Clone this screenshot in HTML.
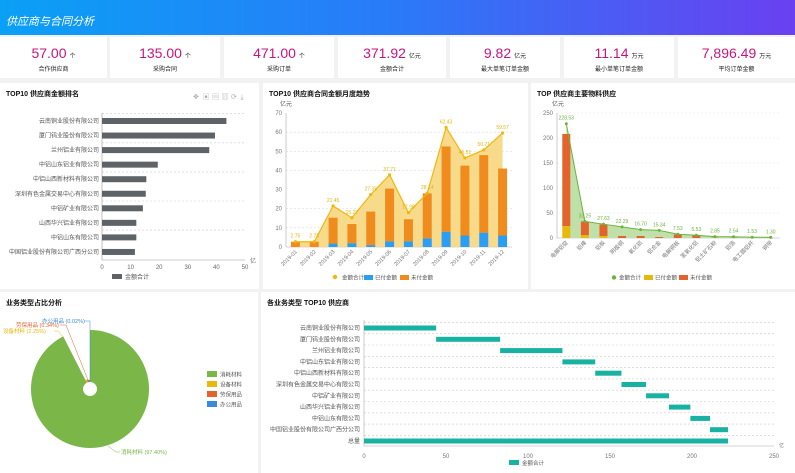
<!DOCTYPE html>
<html><head><meta charset="utf-8"><style>
*{margin:0;padding:0;box-sizing:border-box}
body{width:795px;height:473px;overflow:hidden;background:#f2f2f2;font-family:"Liberation Sans","Noto Sans CJK SC",sans-serif;position:relative}
.hdr{position:absolute;left:0;top:0;width:795px;height:35px;background:linear-gradient(90deg,#0aa0f6,#2a7af8 50%,#6a40f0);color:#fff;font-size:11px;font-style:italic;padding:13px 0 0 6px}
.card{position:absolute;top:37px;height:41px;background:#fff;text-align:center}
.card .v{color:#c8157e;font-size:14px;margin-top:8px}
.card .v small{color:#222;font-size:6px;margin-left:3px}
.card .l{font-size:6px;color:#222;margin-top:3px}
.panel{position:absolute;background:#fff}
.t{position:absolute;left:6px;top:6px;font-size:7px;font-weight:bold;color:#111}
svg{position:absolute;left:0;top:0}
</style></head><body>
<div class="hdr">供应商与合同分析</div>
<div class="card" style="left:0;width:107px"><div class="v">57.00<small>个</small></div><div class="l">合作供应商</div></div>
<div class="card" style="left:110px;width:110px"><div class="v">135.00<small>个</small></div><div class="l">采购合同</div></div>
<div class="card" style="left:224px;width:110px"><div class="v">471.00<small>个</small></div><div class="l">采购订单</div></div>
<div class="card" style="left:338px;width:108px"><div class="v">371.92<small>亿元</small></div><div class="l">金额合计</div></div>
<div class="card" style="left:450px;width:110px"><div class="v">9.82<small>亿元</small></div><div class="l">最大单笔订单金额</div></div>
<div class="card" style="left:564px;width:110px"><div class="v">11.14<small>万元</small></div><div class="l">最小单笔订单金额</div></div>
<div class="card" style="left:678px;width:117px"><div class="v">7,896.49<small>万元</small></div><div class="l">平均订单金额</div></div>

<div class="panel" style="left:0;top:83px;width:259px;height:206px"><div class="t">TOP10 供应商金额排名</div></div>
<div class="panel" style="left:263px;top:83px;width:265px;height:206px"><div class="t">TOP10 供应商合同金额月度趋势</div></div>
<div class="panel" style="left:531px;top:83px;width:264px;height:206px"><div class="t">TOP 供应商主要物料供应</div></div>
<div class="panel" style="left:0;top:292px;width:258px;height:181px"><div class="t">业务类型占比分析</div></div>
<div class="panel" style="left:261px;top:292px;width:534px;height:181px"><div class="t">各业务类型 TOP10 供应商</div></div>

<svg id="s" width="795" height="473" font-family="Liberation Sans, Noto Sans CJK SC, sans-serif"></svg>
<script>
// ---- chart 1 data
const c1Cats=["云南铜业股份有限公司","厦门钨业股份有限公司","兰州铝业有限公司","中铝山东铝业有限公司","中铝山西新材料有限公司","深圳有色金属交易中心有限公司","中铝矿业有限公司","山西华兴铝业有限公司","中铝山东有限公司","中国铝业股份有限公司广西分公司"];
const c1Vals=[43.5,39.5,37.5,19.5,15.5,15.3,14.3,12,12,11.5];
const c1Ticks=[0,10,20,30,40,50];
// ---- chart 2 data
const c2Cats=["2019-01","2019-02","2019-03","2019-04","2019-05","2019-06","2019-07","2019-08","2019-09","2019-10","2019-11","2019-12"];
const c2Total=[2.75,2.75,21.45,15.27,27.35,37.71,17.98,28.14,62.43,46.51,50.71,59.57];
const c2Paid=[0,0,1.8,2,1,3,3,4.5,8,6,7.5,6];
const c2Unpaid=[2.75,2.75,13.5,10,17.5,27.5,11.5,23.5,44.5,36.5,40.5,35];
const c2Ticks=[0,10,20,30,40,50,60,70];
// ---- chart 3 data
const c3Cats=["电解铝锭","铝棒","铝板","阴极铜","氧化铝","铝合金","电解铜板","氢氧化铝","铝土矿石粉","铝箔","电工圆铝杆","铜带"];
const c3Total=[228.53,33.25,27.63,22.29,16.70,15.34,7.53,5.53,2.85,2.54,1.53,1.30];
const c3Paid=[24,6,4,0,0,0,0,0,0,0,0,0];
const c3Unpaid=[184,27,23,4,4,2,7,5,0.5,0.5,0.3,0.3];
const c3Ticks=[0,50,100,150,200,250];
// ---- chart 4 data
const c4Cats=["消耗材料","设备材料","劳保用品","办公用品"];
const c4Vals=[97.40,2.25,0.34,0.02];
// ---- chart 5 data
const c5Cats=["云南铜业股份有限公司","厦门钨业股份有限公司","兰州铝业有限公司","中铝山东铝业有限公司","中铝山西新材料有限公司","深圳有色金属交易中心有限公司","中铝矿业有限公司","山西华兴铝业有限公司","中铝山东有限公司","中国铝业股份有限公司广西分公司","总量"];
const c5Vals=[44,39,38,20,16,15,14,13,12,11];
const c5Ticks=[0,50,100,150,200,250];

const S=document.getElementById('s');const NS='http://www.w3.org/2000/svg';
function mk(t,a,txt){const e=document.createElementNS(NS,t);for(const k in a)e.setAttribute(k,a[k]);if(txt!==undefined)e.textContent=txt;S.appendChild(e);return e;}

// ===== chart 1
(function(){
const x=v=>102+v/50*143, y=i=>121+i*14.55;
c1Ticks.forEach(t=>{const e=mk('text',{x:x(t),y:269,'font-size':6,fill:'#666','text-anchor':'middle'},t);

});
mk('text',{x:250,y:263,'font-size':6,fill:'#666'},'亿');
[0,2,4,6,8].forEach(i=>mk('line',{x1:102,x2:245,y1:y(i)-7.3,y2:y(i)-7.3,stroke:'#ccc','stroke-dasharray':'2,2','stroke-width':0.6}));
mk('line',{x1:102,x2:102,y1:113,y2:260,stroke:'#999','stroke-width':0.6});
mk('line',{x1:102,x2:245,y1:260,y2:260,stroke:'#999','stroke-width':0.6});
c1Cats.forEach((c,i)=>{
const b=mk('rect',{x:102,y:y(i)-3,width:x(c1Vals[i])-102,height:6,fill:'#5d6367'});


mk('text',{x:99,y:y(i)+2,'font-size':6,fill:'#555','text-anchor':'end'},c);});
mk('rect',{x:112,y:274,width:10,height:5,fill:'#5d6367'});
const lg=mk('text',{x:125,y:279,'font-size':6,fill:'#555'},'金额合计');


['✥','▣','▤','▥','⟳','⤓'].forEach((g,i)=>{const e=mk('text',{x:193+i*9.5,y:99,'font-size':7,fill:'#aaa'},g);

});
})();

// ===== chart 2
(function(){
const L=286,R=512,bw=(R-L)/12,x=i=>L+bw*(i+0.5),y=v=>247-v/70*134;
c2Ticks.forEach(t=>{mk('text',{x:282,y:y(t)+2,'font-size':6,fill:'#777','text-anchor':'end'},t);
if(t>0&&t%20==0||t==10||t==50)mk('line',{x1:L,x2:R,y1:y(t),y2:y(t),stroke:'#ddd','stroke-dasharray':'2,2','stroke-width':0.6});});
mk('text',{x:280,y:106,'font-size':6,fill:'#555'},'亿元');
mk('line',{x1:L,x2:L,y1:113,y2:247,stroke:'#aaa','stroke-width':0.6});
mk('line',{x1:L,x2:R,y1:247,y2:247,stroke:'#aaa','stroke-width':0.6});
let d='M'+x(0)+','+y(0);c2Total.forEach((v,i)=>d+='L'+x(i)+','+y(v));d+='L'+x(11)+','+y(0)+'Z';
mk('path',{d:d,fill:'#f7d67e',opacity:0.9});
c2Cats.forEach((c,i)=>{
const b1=mk('rect',{x:x(i)-4.5,y:y(c2Paid[i]),width:9,height:y(0)-y(c2Paid[i]),fill:'#2a9df4'});


const b2=mk('rect',{x:x(i)-4.5,y:y(c2Paid[i]+c2Unpaid[i]),width:9,height:y(c2Paid[i])-y(c2Paid[i]+c2Unpaid[i]),fill:'#f08c1e'});


mk('text',{x:x(i)+2,y:252,'font-size':5.5,fill:'#777','text-anchor':'end',transform:`rotate(-45 ${x(i)+2} 252)`},c);});
let p='';c2Total.forEach((v,i)=>p+=(i?'L':'M')+x(i)+','+y(v));
const ln=mk('path',{d:p,fill:'none',stroke:'#f0b70c','stroke-width':1.2});


c2Total.forEach((v,i)=>{mk('circle',{cx:x(i),cy:y(v),r:1.6,fill:'#f0b70c'});
mk('text',{x:x(i),y:y(v)-4,'font-size':5,fill:'#e8b20c','text-anchor':'middle'},v.toFixed(2));});
[['circle','#f0b70c','金额合计',345],['rect','#2a9df4','已付金额',378],['rect','#f08c1e','未付金额',414]].forEach(a=>{
if(a[0]=='circle')mk('circle',{cx:a[3]-10,cy:277,r:2.2,fill:a[1]});else mk('rect',{x:a[3]-14,y:275,width:9,height:5,fill:a[1]});
const e=mk('text',{x:a[3]-3,y:279.5,'font-size':5.5,fill:'#555'},a[2]);

});
})();

// ===== chart 3
(function(){
const L=557,R=780,bw=(R-L)/12,x=i=>L+bw*(i+0.5),y=v=>238-v/250*125;
c3Ticks.forEach(t=>{mk('text',{x:553,y:y(t)+2,'font-size':6,fill:'#777','text-anchor':'end'},t);
if(t>0)mk('line',{x1:L,x2:R,y1:y(t),y2:y(t),stroke:'#e4e4e4','stroke-dasharray':'2,2','stroke-width':0.6});});
mk('text',{x:552,y:106,'font-size':6,fill:'#555'},'亿元');
mk('line',{x1:L,x2:L,y1:113,y2:238,stroke:'#aaa','stroke-width':0.6});
mk('line',{x1:L,x2:R,y1:238,y2:238,stroke:'#aaa','stroke-width':0.6});
let d='M'+x(0)+','+y(0);c3Total.forEach((v,i)=>d+='L'+x(i)+','+y(v));d+='L'+x(11)+','+y(0)+'Z';
mk('path',{d:d,fill:'#bfe0a8'});
c3Cats.forEach((c,i)=>{
const b1=mk('rect',{x:x(i)-4,y:y(c3Paid[i]),width:8,height:y(0)-y(c3Paid[i]),fill:'#e8b90c'});


const b2=mk('rect',{x:x(i)-4,y:y(c3Paid[i]+c3Unpaid[i]),width:8,height:y(c3Paid[i])-y(c3Paid[i]+c3Unpaid[i]),fill:'#e4622c'});


mk('text',{x:x(i)+2,y:243,'font-size':5.5,fill:'#777','text-anchor':'end',transform:`rotate(-45 ${x(i)+2} 243)`},c);});
let p='';c3Total.forEach((v,i)=>p+=(i?'L':'M')+x(i)+','+y(v));
const ln=mk('path',{d:p,fill:'none',stroke:'#6cb33e','stroke-width':1});


c3Total.forEach((v,i)=>{mk('circle',{cx:x(i),cy:y(v),r:1.5,fill:'#6cb33e'});
mk('text',{x:x(i),y:y(v)-4,'font-size':5,fill:'#6cb33e','text-anchor':'middle'},v.toFixed(2));});
[['circle','#6cb33e','金额合计',622],['rect','#e8b90c','已付金额',658],['rect','#e4622c','未付金额',693]].forEach(a=>{
if(a[0]=='circle')mk('circle',{cx:a[3]-8,cy:277.5,r:2.2,fill:a[1]});else mk('rect',{x:a[3]-14,y:275,width:9,height:5,fill:a[1]});
const e=mk('text',{x:a[3]-3,y:279.5,'font-size':5.5,fill:'#555'},a[2]);

});
})();

// ===== chart 4 (rose pie)
(function(){
const cx=90,cy=389,colors=['#7ab648','#e8b90c','#e4622c','#3b8ad9'];
const max=Math.max(...c4Vals);
const minAng=0.075*Math.PI*2;
let a0=-Math.PI/2;const smallAng=minAng/3;
c4Vals.forEach((v,i)=>{
const ang=i==0?(Math.PI*2-minAng):smallAng;
const r=i==0?59*Math.sqrt(v/max):9+Math.sqrt(v/max)*8;
const a1=a0+ang;
const P=(a,rr)=>[cx+rr*Math.cos(a),cy+rr*Math.sin(a)];
const [x0,y0]=P(a0,r),[x1,y1]=P(a1,r),[ix0,iy0]=P(a0,7),[ix1,iy1]=P(a1,7);
const lg=ang>Math.PI?1:0;
const s=mk('path',{d:`M${ix0},${iy0}L${x0},${y0}A${r},${r} 0 ${lg} 1 ${x1},${y1}L${ix1},${iy1}A7,7 0 ${lg} 0 ${ix0},${iy0}Z`,fill:colors[i]});


a0=a1;});
c4Cats.forEach((c,i)=>{
const txt=c+' ('+c4Vals[i].toFixed(2)+'%)';
if(i==0){mk('polyline',{points:'108,446 116,452 120,452',fill:'none',stroke:'#7ab648','stroke-width':0.5});mk('text',{x:121,y:454,'font-size':5.5,fill:'#7ab648'},txt);}
if(i==1){mk('polyline',{points:'63,337 58,331 54,331',fill:'none',stroke:'#e8b90c','stroke-width':0.5});mk('text',{x:3,y:333,'font-size':5.5,fill:'#e8b90c'},txt);}
if(i==2){mk('polyline',{points:'88,380 66,325 60,325',fill:'none',stroke:'#e4622c','stroke-width':0.5});mk('text',{x:16,y:327,'font-size':5.5,fill:'#e4622c'},txt);}
if(i==3){mk('polyline',{points:'90,380 90,321 84,321',fill:'none',stroke:'#3b8ad9','stroke-width':0.5});mk('text',{x:42,y:323,'font-size':5.5,fill:'#3b8ad9'},txt);}
mk('rect',{x:207,y:371+i*10,width:10,height:6,fill:colors[i]});
const e=mk('text',{x:220,y:376.5+i*10,'font-size':5.5,fill:'#555'},c);

});
})();

// ===== chart 5 (waterfall)
(function(){
const L=364,R=774,x=v=>L+v/250*(R-L),y=i=>328+i*11.3;
c5Ticks.forEach(t=>mk('text',{x:x(t),y:458,'font-size':6,fill:'#777','text-anchor':'middle'},t));
mk('text',{x:779,y:447,'font-size':5,fill:'#777'},'亿');
for(let i=0;i<11;i++)mk('line',{x1:L,x2:R,y1:y(i)-5.6,y2:y(i)-5.6,stroke:'#ccc','stroke-dasharray':'2,2','stroke-width':0.6});
mk('line',{x1:L,x2:L,y1:320,y2:446,stroke:'#aaa','stroke-width':0.6});
mk('line',{x1:L,x2:R,y1:446,y2:446,stroke:'#aaa','stroke-width':0.6});
let acc=0;const sum=c5Vals.reduce((a,b)=>a+b,0);
c5Cats.forEach((c,i)=>{
let s,v;if(i<c5Vals.length){s=acc;v=c5Vals[i];acc+=v;}else{s=0;v=sum;}
const b=mk('rect',{x:x(s),y:y(i)-2.5,width:x(s+v)-x(s),height:5,fill:'#17b2a2'});


mk('text',{x:360,y:y(i)+2,'font-size':6,fill:'#555','text-anchor':'end'},c);});
mk('rect',{x:509,y:460,width:10,height:5,fill:'#17b2a2'});
const e=mk('text',{x:522,y:465,'font-size':5.5,fill:'#555'},'金额合计');


})();
</script>
</body></html>
